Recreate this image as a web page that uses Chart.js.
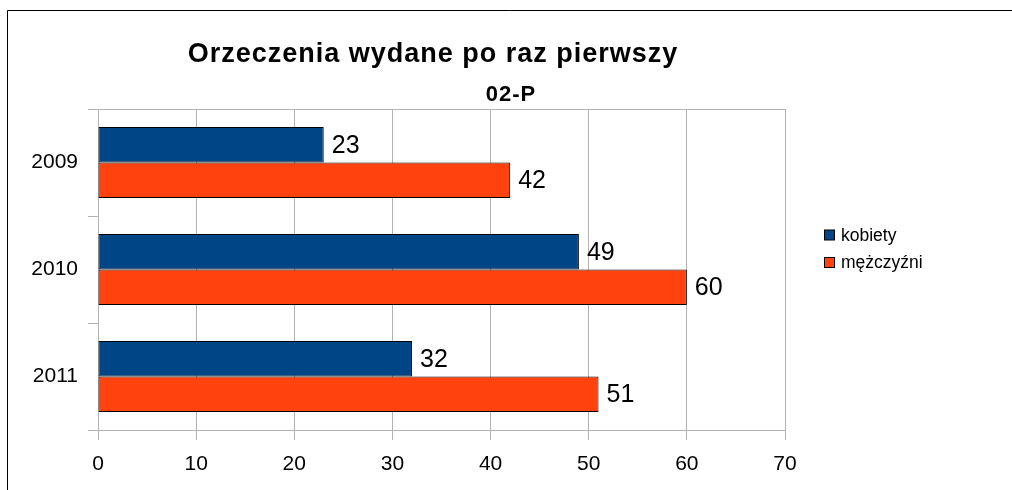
<!DOCTYPE html>
<html>
<head>
<meta charset="utf-8">
<script src="https://cdn.jsdelivr.net/npm/chart.js@4/dist/chart.umd.min.js"></script>
<style>
    html, body { margin: 0; padding: 0; background: #fff; }
    #wrap { width: 1012px; height: 490px; }
</style>
</head>
<body>
<div id="wrap"><canvas id="chart" width="1012" height="490"></canvas></div>
<script>
/* Data */

const years = ["2009", "2010", "2011"];

const kobiety = [23, 49, 32];

const mezczyzni = [42, 60, 51];

const seriesNames = ["kobiety", "mężczyźni"];

const xTicks = [0, 10, 20, 30, 40, 50, 60, 70];

const FONT = "'Liberation Sans', Arial, sans-serif";


/* Frame, titles, legend, value labels */

const decorPlugin = {

    id: "decor",

    beforeDraw(chart) {
        const c = chart.ctx;
        c.save();
        c.fillStyle = "#fff";
        c.fillRect(0, 0, chart.width, chart.height);
        c.strokeStyle = "#000";
        c.lineWidth = 1;
        c.beginPath();
        c.moveTo(7.5, chart.height);
        c.lineTo(7.5, 10.5);
        c.lineTo(chart.width, 10.5);
        c.stroke();
        c.restore();
    },

    afterDatasetsDraw(chart) {
        const c = chart.ctx;
        c.save();
        c.fillStyle = "#000";
        c.font = "25px " + FONT;
        c.textAlign = "left";
        c.textBaseline = "middle";
        chart.data.datasets.forEach((ds, i) => {
            chart.getDatasetMeta(i).data.forEach((bar, j) => {
                c.fillText(String(ds.data[j]), bar.x + 8, bar.y + 1);
            });
        });
        c.restore();
    },

    afterDraw(chart) {
        const c = chart.ctx;
        c.save();
        c.fillStyle = "#000";
        c.textAlign = "center";
        c.textBaseline = "alphabetic";

        c.font = "bold 27px " + FONT;
        c.letterSpacing = "1px";
        c.fillText("Orzeczenia wydane po raz pierwszy", 433, 62);

        c.font = "bold 22px " + FONT;
        c.fillText("02-P", 511, 101);
        c.letterSpacing = "0px";

        // legend
        c.textAlign = "left";
        c.textBaseline = "middle";
        c.font = "17.5px " + FONT;
        chart.data.datasets.forEach((ds, i) => {
            const y = 235 + i * 27.5;
            c.fillStyle = ds.backgroundColor;
            c.fillRect(824.5, y - 5, 10, 10);
            c.strokeStyle = "#000";
            c.lineWidth = 1;
            c.strokeRect(824.5, y - 5, 10, 10);
            c.fillStyle = "#000";
            c.fillText(ds.label, 841, y + 1);
        });
        c.restore();
    }

};


/* Chart */

const ctx = document.getElementById("chart");

new Chart(ctx, {

    type: "bar",

    data: {

        labels: years,

        datasets: [
            {
                label: seriesNames[0],
                data: kobiety,
                backgroundColor: "#004586",
                borderColor: "#000",
                borderWidth: 1,
                borderSkipped: false
            },
            {
                label: seriesNames[1],
                data: mezczyzni,
                backgroundColor: "#ff420e",
                borderColor: "#000",
                borderWidth: 1,
                borderSkipped: false
            }
        ]

    },

    options: {

        indexAxis: "y",

        responsive: false,

        animation: false,

        categoryPercentage: 0.664,

        barPercentage: 1.0,

        layout: {
            padding: { left: 0, top: 109, right: 227, bottom: 0 }
        },

        plugins: {
            legend: { display: false },
            title: { display: false },
            tooltip: { enabled: false }
        },

        scales: {

            x: {
                min: 0,
                max: 70,
                afterBuildTicks: (axis) => {
                    axis.ticks = xTicks.map(v => ({ value: v }));
                },
                afterFit: (axis) => { axis.height = 60; },
                grid: {
                    color: "#b3b3b3",
                    tickColor: "#b3b3b3",
                    tickLength: 10,
                    lineWidth: 1
                },
                border: { color: "#b3b3b3" },
                ticks: {
                    color: "#000",
                    padding: 12,
                    font: { family: FONT, size: 21 }
                }
            },

            y: {
                afterFit: (axis) => { axis.width = 98; },
                grid: {
                    offset: true,
                    color: (c) => (c.index === 0 || c.index === years.length) ? "#b3b3b3" : "rgba(0,0,0,0)",
                    tickColor: "#b3b3b3",
                    tickLength: 10,
                    lineWidth: 1
                },
                border: { color: "#b3b3b3" },
                ticks: {
                    color: "#000",
                    padding: 10,
                    font: { family: FONT, size: 21 }
                }
            }

        }

    },

    plugins: [decorPlugin]

});
</script>
</body>
</html>
